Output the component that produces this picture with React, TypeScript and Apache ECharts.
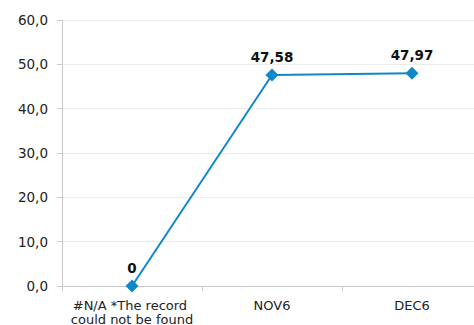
import React, { useEffect, useRef } from "react";
import * as echarts from "echarts";

const categories = ["#N/A *The record could not be found", "NOV6", "DEC6"];
const values = [0, 47.58, 47.97];
const yMin = 0;
const yMax = 60;
const yInterval = 10;

const fmt = (v: number, d: number) => v.toFixed(d).replace(".", ",");

export default function App() {
  const ref = useRef<HTMLDivElement>(null);
  useEffect(() => {
    if (!ref.current) return;
    const chart = echarts.init(ref.current, undefined, { renderer: "svg" });
    const font = "Verdana, 'DejaVu Sans', sans-serif";
    chart.setOption({
      animation: false,
      grid: {
        left: 62,
        top: 20,
        height: 266,
        width: 420,
        containLabel: false,
        outerBoundsMode: "none",
      },
      xAxis: {
        type: "category",
        data: categories,
        boundaryGap: true,
        axisLine: { show: true, lineStyle: { color: "#c8c8c8", width: 1 } },
        axisTick: { show: true, alignWithLabel: false, length: 5, lineStyle: { color: "#c8c8c8" } },
        axisLabel: {
          color: "#222",
          fontFamily: font,
          fontSize: 13,
          margin: 12,
          lineHeight: 14,
          width: 128,
          overflow: "break",
          interval: 0,
        },
      },
      yAxis: {
        type: "value",
        min: yMin,
        max: yMax,
        interval: yInterval,
        axisLine: { show: true, lineStyle: { color: "#c8c8c8", width: 1 } },
        axisTick: { show: true, length: 5, lineStyle: { color: "#c8c8c8" } },
        splitLine: { show: true, lineStyle: { color: "#ececec", width: 1 } },
        axisLabel: {
          color: "#222",
          fontFamily: font,
          fontSize: 13.5,
          margin: 14,
          formatter: (v: number) => fmt(v, 1),
        },
      },
      series: [
        {
          type: "line",
          data: values,
          symbol: "diamond",
          symbolSize: 13,
          lineStyle: { color: "#0f88c9", width: 2 },
          itemStyle: { color: "#0f88c9" },
          label: {
            show: true,
            position: "top",
            distance: 5,
            color: "#111",
            fontFamily: font,
            fontWeight: "bold",
            fontSize: 13.5,
            formatter: (p: any) => (p.value === 0 ? "0" : fmt(p.value, 2)),
          },
        },
      ],
    });
    return () => chart.dispose();
  }, []);
  return <div ref={ref} style={{ width: 474, height: 325, position: "absolute", left: 0, top: 0, background: "#fff" }} />;
}
